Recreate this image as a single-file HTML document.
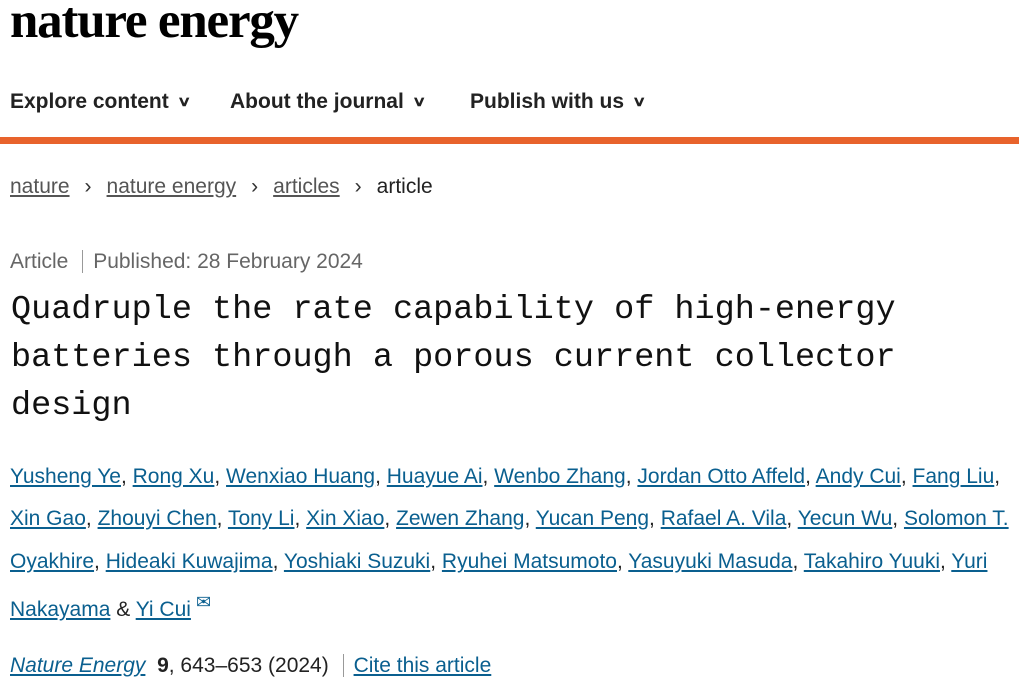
<!DOCTYPE html>
<html><head><meta charset="utf-8"><style>
body{margin:0;width:1019px;height:682px;overflow:hidden;background:#fff;font-family:"Liberation Sans",sans-serif;color:#222;position:relative}
.a{position:absolute;white-space:nowrap}
.logo{left:10px;top:-8px;font-family:"Liberation Serif",serif;font-weight:bold;font-size:51px;letter-spacing:-1.2px;color:#000}
.nav{top:90px;font-size:21px;font-weight:bold;color:#222}
.nav span{font-size:14px;display:inline-block;transform:scaleX(1.4);margin-left:10px;vertical-align:2px}
.orange{left:0;top:137px;width:1019px;height:7px;background:#e8632c}
.bc{top:175px;left:10px;font-size:21px;color:#555}
.bc u{text-decoration:underline;color:#555}
.bc b{font-weight:normal;margin:0 15px;color:#333}
.meta{top:250px;left:10px;font-size:21px;color:#666}
.title{left:11px;font-family:"Liberation Mono",monospace;font-size:33.5px;color:#111}
.auth{left:10px;font-size:21px;color:#222}
.auth a{color:#0a5f8f;text-decoration:underline}
</style></head><body>
<div class="a logo">nature energy</div>
<div class="a nav" style="left:10px">Explore content<span>∨</span></div>
<div class="a nav" style="left:230px">About the journal<span>∨</span></div>
<div class="a nav" style="left:470px">Publish with us<span>∨</span></div>
<div class="a orange"></div>
<div class="a bc"><u>nature</u><b>›</b><u>nature energy</u><b>›</b><u>articles</u><b>›</b><span style="color:#222">article</span></div>
<div class="a meta">Article <span style="border-left:1px solid #999;margin:0 10px 0 8px"></span> Published: 28 February 2024</div>
<div class="a title" style="top:291px">Quadruple the rate capability of high-energy</div>
<div class="a title" style="top:339px">batteries through a porous current collector</div>
<div class="a title" style="top:387px">design</div>
<div class="a auth" style="top:465px"><a>Yusheng Ye</a>, <a>Rong Xu</a>, <a>Wenxiao Huang</a>, <a>Huayue Ai</a>, <a>Wenbo Zhang</a>, <a>Jordan Otto Affeld</a>, <a>Andy Cui</a>, <a>Fang Liu</a>,</div>
<div class="a auth" style="top:507px"><a>Xin Gao</a>, <a>Zhouyi Chen</a>, <a>Tony Li</a>, <a>Xin Xiao</a>, <a>Zewen Zhang</a>, <a>Yucan Peng</a>, <a>Rafael A. Vila</a>, <a>Yecun Wu</a>, <a>Solomon T.</a></div>
<div class="a auth" style="top:550px"><a>Oyakhire</a>, <a>Hideaki Kuwajima</a>, <a>Yoshiaki Suzuki</a>, <a>Ryuhei Matsumoto</a>, <a>Yasuyuki Masuda</a>, <a>Takahiro Yuuki</a>, <a>Yuri</a></div>
<div class="a auth" style="top:592px"><a>Nakayama</a> &amp; <a>Yi Cui</a><span style="color:#0a5f8f;font-size:18px;vertical-align:8px"> ✉</span></div>
<div class="a auth" style="top:654px"><a style="font-style:italic">Nature Energy</a> &nbsp;<b>9</b>, 643–653 (2024) <span style="border-left:1px solid #999;margin:0 10px 0 8px"></span> <a>Cite this article</a></div>
</body></html>
